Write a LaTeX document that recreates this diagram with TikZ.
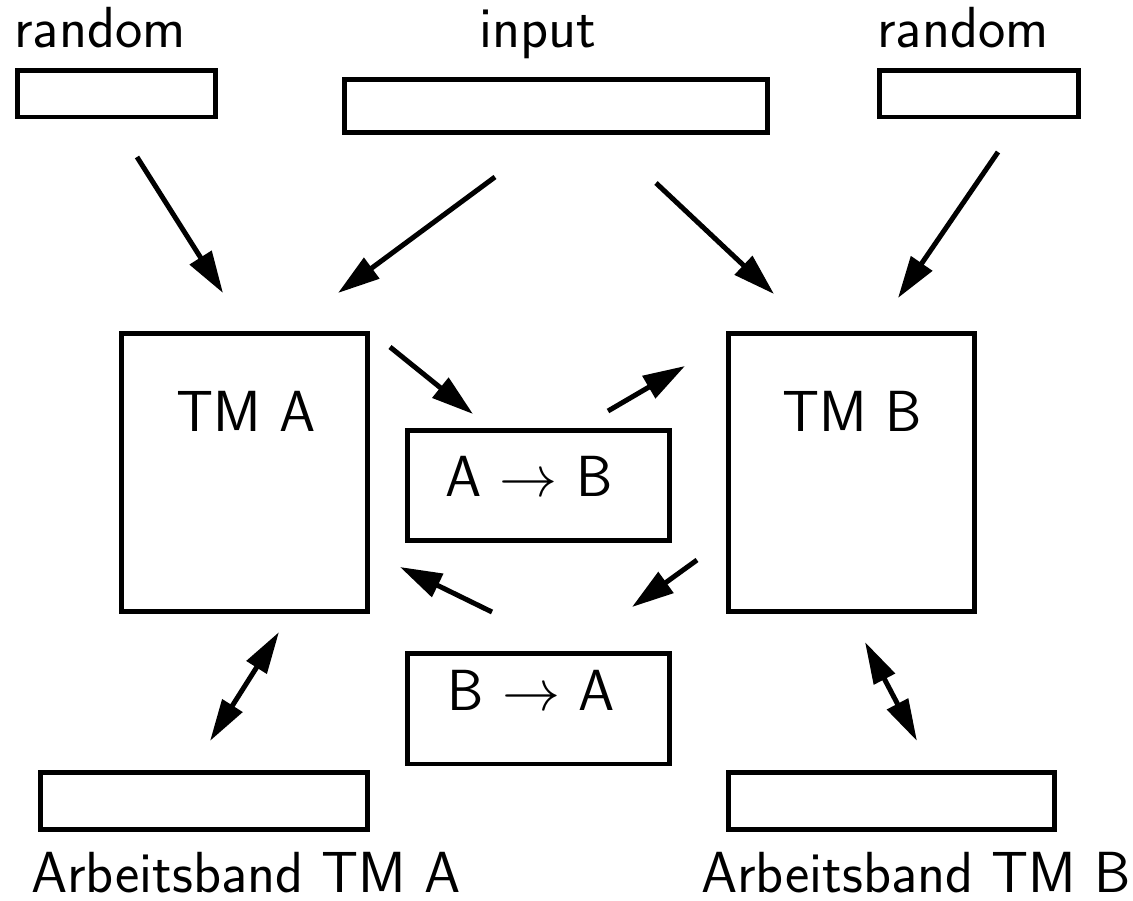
\documentclass[tikz,border=0pt]{standalone}
\usepackage{fix-cm}
\usepackage{fontspec}
\usetikzlibrary{arrows.meta}
\begin{document}
\begin{tikzpicture}[x=0.02cm,y=-0.02cm,
  font=\sffamily\fontsize{33}{40}\selectfont,
  box/.style={draw,line width=0.1cm,inner sep=0pt},
  lbl/.style={anchor=base,inner sep=0pt},
  flow/.style={line width=0.1cm,-{Triangle[length=0.84cm,width=0.5cm]}},
  both/.style={line width=0.1cm,{Triangle[length=0.84cm,width=0.46cm]}-{Triangle[length=0.84cm,width=0.46cm]}}]
\useasboundingbox (0,0) rectangle (1133,900);

% tapes and machines
\node[box,minimum width=3.98cm,minimum height=0.94cm] (rl) at (116.5,93.5) {};
\node[box,minimum width=8.48cm,minimum height=1.08cm] (in) at (556,106) {};
\node[box,minimum width=4.00cm,minimum height=0.94cm] (rr) at (979,93.5) {};
\node[box,minimum width=4.94cm,minimum height=5.58cm] (tma) at (244.5,472.5) {};
\node[box,minimum width=4.94cm,minimum height=5.58cm] (tmb) at (851.5,472.5) {};
\node[box,minimum width=5.26cm,minimum height=2.22cm] (ab) at (538.5,485.5) {};
\node[box,minimum width=5.26cm,minimum height=2.22cm] (ba) at (538.5,708.5) {};
\node[box,minimum width=6.56cm,minimum height=1.14cm] (wa) at (204,800.5) {};
\node[box,minimum width=6.54cm,minimum height=1.14cm] (wb) at (891.5,800.5) {};

% labels
\node[lbl] (trl) at (100,47) {random};
\node[lbl] (tin) at (538,47) {input};
\node[lbl] (trr) at (963,47) {random};
\node[lbl] (ttma) at (246,431) {TM A};
\node[lbl] (ttmb) at (852,431) {TM B};
\node[lbl] (tab) at (529,496) {A $\rightarrow$ B};
\node[lbl] (tba) at (531,710) {B $\rightarrow$ A};
\node[lbl] (twa) at (246,892) {Arbeitsband TM A};
\node[lbl] (twb) at (916,892) {Arbeitsband TM B};

% connector end points
\coordinate (p1) at (137,157);  \coordinate (q1) at (223,293);
\coordinate (p2) at (495,177);  \coordinate (q2) at (338,293);
\coordinate (p3) at (656,183);  \coordinate (q3) at (774,294);
\coordinate (p4) at (998,152);  \coordinate (q4) at (898,298);
\coordinate (p5) at (390,347);  \coordinate (q5) at (473,414);
\coordinate (p6) at (608,411);  \coordinate (q6) at (685,366);
\coordinate (p7) at (697,560);  \coordinate (q7) at (632,607);
\coordinate (p8) at (492,612);  \coordinate (q8) at (400,567);
\coordinate (p9) at (279,632);  \coordinate (q9) at (210,741);
\coordinate (p10) at (865,642); \coordinate (q10) at (917,741);

\draw[flow] (p1) -- (q1);
\draw[flow] (p2) -- (q2);
\draw[flow] (p3) -- (q3);
\draw[flow] (p4) -- (q4);
\draw[flow] (p5) -- (q5);
\draw[flow] (p6) -- (q6);
\draw[flow] (p7) -- (q7);
\draw[flow] (p8) -- (q8);
\draw[both] (p9) -- (q9);
\draw[both] (p10) -- (q10);
\end{tikzpicture}
\end{document}
